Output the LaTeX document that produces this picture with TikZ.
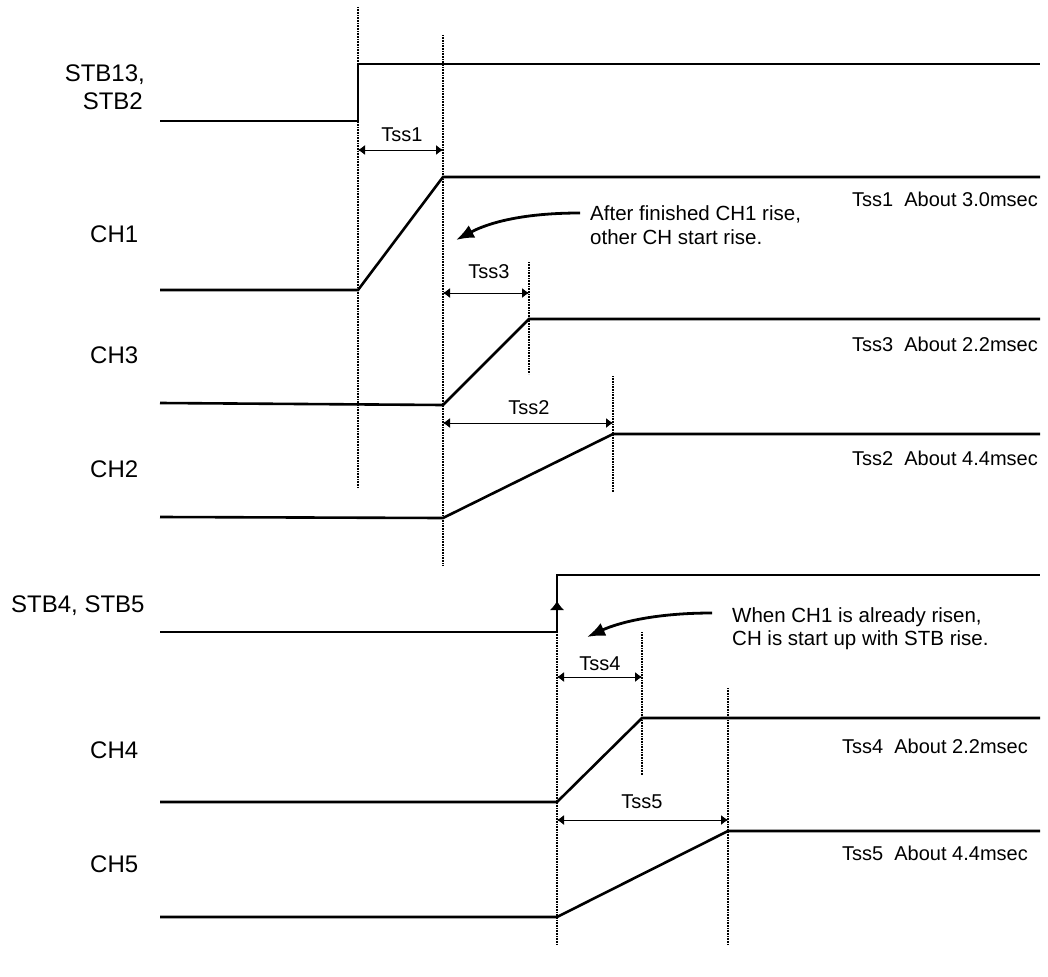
\documentclass[tikz,border=0pt]{standalone}
\usepackage{fontspec}
\setmainfont{Liberation Sans}
\usetikzlibrary{arrows.meta}
\begin{document}
\begin{tikzpicture}[x=1pt,y=-1pt,
  sig/.style={line width=2.6pt, line join=miter},
  vline/.style={line width=1.2pt, dash pattern=on 1pt off 0.6pt},
  dim/.style={line width=0.9pt, {Latex[length=7pt,width=10pt]}-{Latex[length=7pt,width=10pt]}},
  callout/.style={line width=2.8pt, -{Latex[length=18pt,width=14pt]}},
  biglab/.style={font=\fontsize{24}{28}\selectfont, inner sep=0pt},
  dimlab/.style={font=\fontsize{20}{24}\selectfont, inner sep=0pt, anchor=base},
  rlab/.style={font=\fontsize{20}{24}\selectfont, inner sep=0pt, anchor=base east},
  note/.style={font=\fontsize{20.5}{24}\selectfont, inner sep=0pt, anchor=base west}]
\useasboundingbox (0,0) rectangle (1048,976);

% ---- signal key points
\coordinate (stbA) at (160,121); \coordinate (stbB) at (358,121);
\coordinate (stbC) at (358,64);  \coordinate (stbD) at (1040,64);
\coordinate (c1A) at (160,290); \coordinate (c1B) at (358,290);
\coordinate (c1C) at (443,177); \coordinate (c1D) at (1040,177);
\coordinate (c3A) at (160,403); \coordinate (c3B) at (443,405);
\coordinate (c3C) at (529,319); \coordinate (c3D) at (1040,319);
\coordinate (c2A) at (160,517); \coordinate (c2B) at (443,518);
\coordinate (c2C) at (613,434); \coordinate (c2D) at (1040,434);
\coordinate (s4A) at (160,632); \coordinate (s4B) at (557,632);
\coordinate (s4C) at (557,575); \coordinate (s4D) at (1040,575);
\coordinate (c4A) at (160,802); \coordinate (c4B) at (557,802);
\coordinate (c4C) at (642,718); \coordinate (c4D) at (1040,718);
\coordinate (c5A) at (160,917); \coordinate (c5B) at (557,917);
\coordinate (c5C) at (728,831); \coordinate (c5D) at (1040,831);

% ---- vertical timing lines
\coordinate (v1t) at (358,7);   \coordinate (v1b) at (358,488);
\coordinate (v2t) at (443,35);  \coordinate (v2b) at (443,565);
\coordinate (v3t) at (529,262); \coordinate (v3b) at (529,374);
\coordinate (v4t) at (613,376); \coordinate (v4b) at (613,492);
\coordinate (v5t) at (557,632); \coordinate (v5b) at (557,945);
\coordinate (v6t) at (642,632); \coordinate (v6b) at (642,775);
\coordinate (v7t) at (728,688); \coordinate (v7b) at (728,945);
\draw[vline] (v1t) -- (v1b);
\draw[vline] (v2t) -- (v2b);
\draw[vline] (v3t) -- (v3b);
\draw[vline] (v4t) -- (v4b);
\draw[vline] (v5t) -- (v5b);
\draw[vline] (v6t) -- (v6b);
\draw[vline] (v7t) -- (v7b);

% ---- signals
\draw[sig] (stbA) -- (stbB) -- (stbC) -- (stbD);
\draw[sig] (c1A) -- (c1B) -- (c1C) -- (c1D);
\draw[sig] (c3A) -- (c3B) -- (c3C) -- (c3D);
\draw[sig] (c2A) -- (c2B) -- (c2C) -- (c2D);
\draw[sig] (s4A) -- (s4B) -- (s4C) -- (s4D);
\draw[sig] (c4A) -- (c4B) -- (c4C) -- (c4D);
\draw[sig] (c5A) -- (c5B) -- (c5C) -- (c5D);
\coordinate (upA) at (557,614); \coordinate (upB) at (557,601);
\draw[line width=1pt, -{Latex[length=9pt,width=14pt]}] (upA) -- (upB);

% ---- dimension arrows
\coordinate (d1a) at (358,150); \coordinate (d1b) at (443,150);
\coordinate (d3a) at (443,293); \coordinate (d3b) at (529,293);
\coordinate (d2a) at (443,423); \coordinate (d2b) at (613,423);
\coordinate (d4a) at (557,677); \coordinate (d4b) at (642,677);
\coordinate (d5a) at (557,820); \coordinate (d5b) at (728,820);
\draw[dim] (d1a) -- (d1b);
\draw[dim] (d3a) -- (d3b);
\draw[dim] (d2a) -- (d2b);
\draw[dim] (d4a) -- (d4b);
\draw[dim] (d5a) -- (d5b);
\node[dimlab] (t1) at (402,142) {Tss1};
\node[dimlab] (t3) at (489,278) {Tss3};
\node[dimlab] (t2) at (529,414) {Tss2};
\node[dimlab] (t4) at (600,670) {Tss4};
\node[dimlab] (t5) at (642,808) {Tss5};

% ---- left labels
\node[biglab, anchor=base east] (lstb1) at (145,82) {STB13,};
\node[biglab, anchor=base east] (lstb2) at (143,110) {STB2};
\node[biglab, anchor=base west] (lch1) at (90,243) {CH1};
\node[biglab, anchor=base west] (lch3) at (90,363) {CH3};
\node[biglab, anchor=base west] (lch2) at (90,477) {CH2};
\node[biglab, anchor=base west] (lstb4) at (11,612) {STB4, STB5};
\node[biglab, anchor=base west] (lch4) at (90,758) {CH4};
\node[biglab, anchor=base west] (lch5) at (90,872) {CH5};

% ---- right labels
\node[rlab] (r1) at (1038,207) {Tss1\ \ About 3.0msec};
\node[rlab] (r3) at (1038,351) {Tss3\ \ About 2.2msec};
\node[rlab] (r2) at (1038,465) {Tss2\ \ About 4.4msec};
\node[rlab] (r4) at (1028,753) {Tss4\ \ About 2.2msec};
\node[rlab] (r5) at (1028,860) {Tss5\ \ About 4.4msec};

% ---- annotations
\node[note] (n1a) at (590,221) {After finished CH1 rise,};
\node[note] (n1b) at (590,244) {other CH start rise.};
\node[note] (n2a) at (732,622) {When CH1 is already risen,};
\node[note] (n2b) at (732,645) {CH is start up with STB rise.};
\coordinate (a1t) at (580,213); \coordinate (a1h) at (456,240);
\coordinate (a2t) at (712,613); \coordinate (a2h) at (587,637);
\draw[callout] (a1t) .. controls (525,213) and (490,222) .. (a1h);
\draw[callout] (a2t) .. controls (657,613) and (620,622) .. (a2h);
\end{tikzpicture}
\end{document}
